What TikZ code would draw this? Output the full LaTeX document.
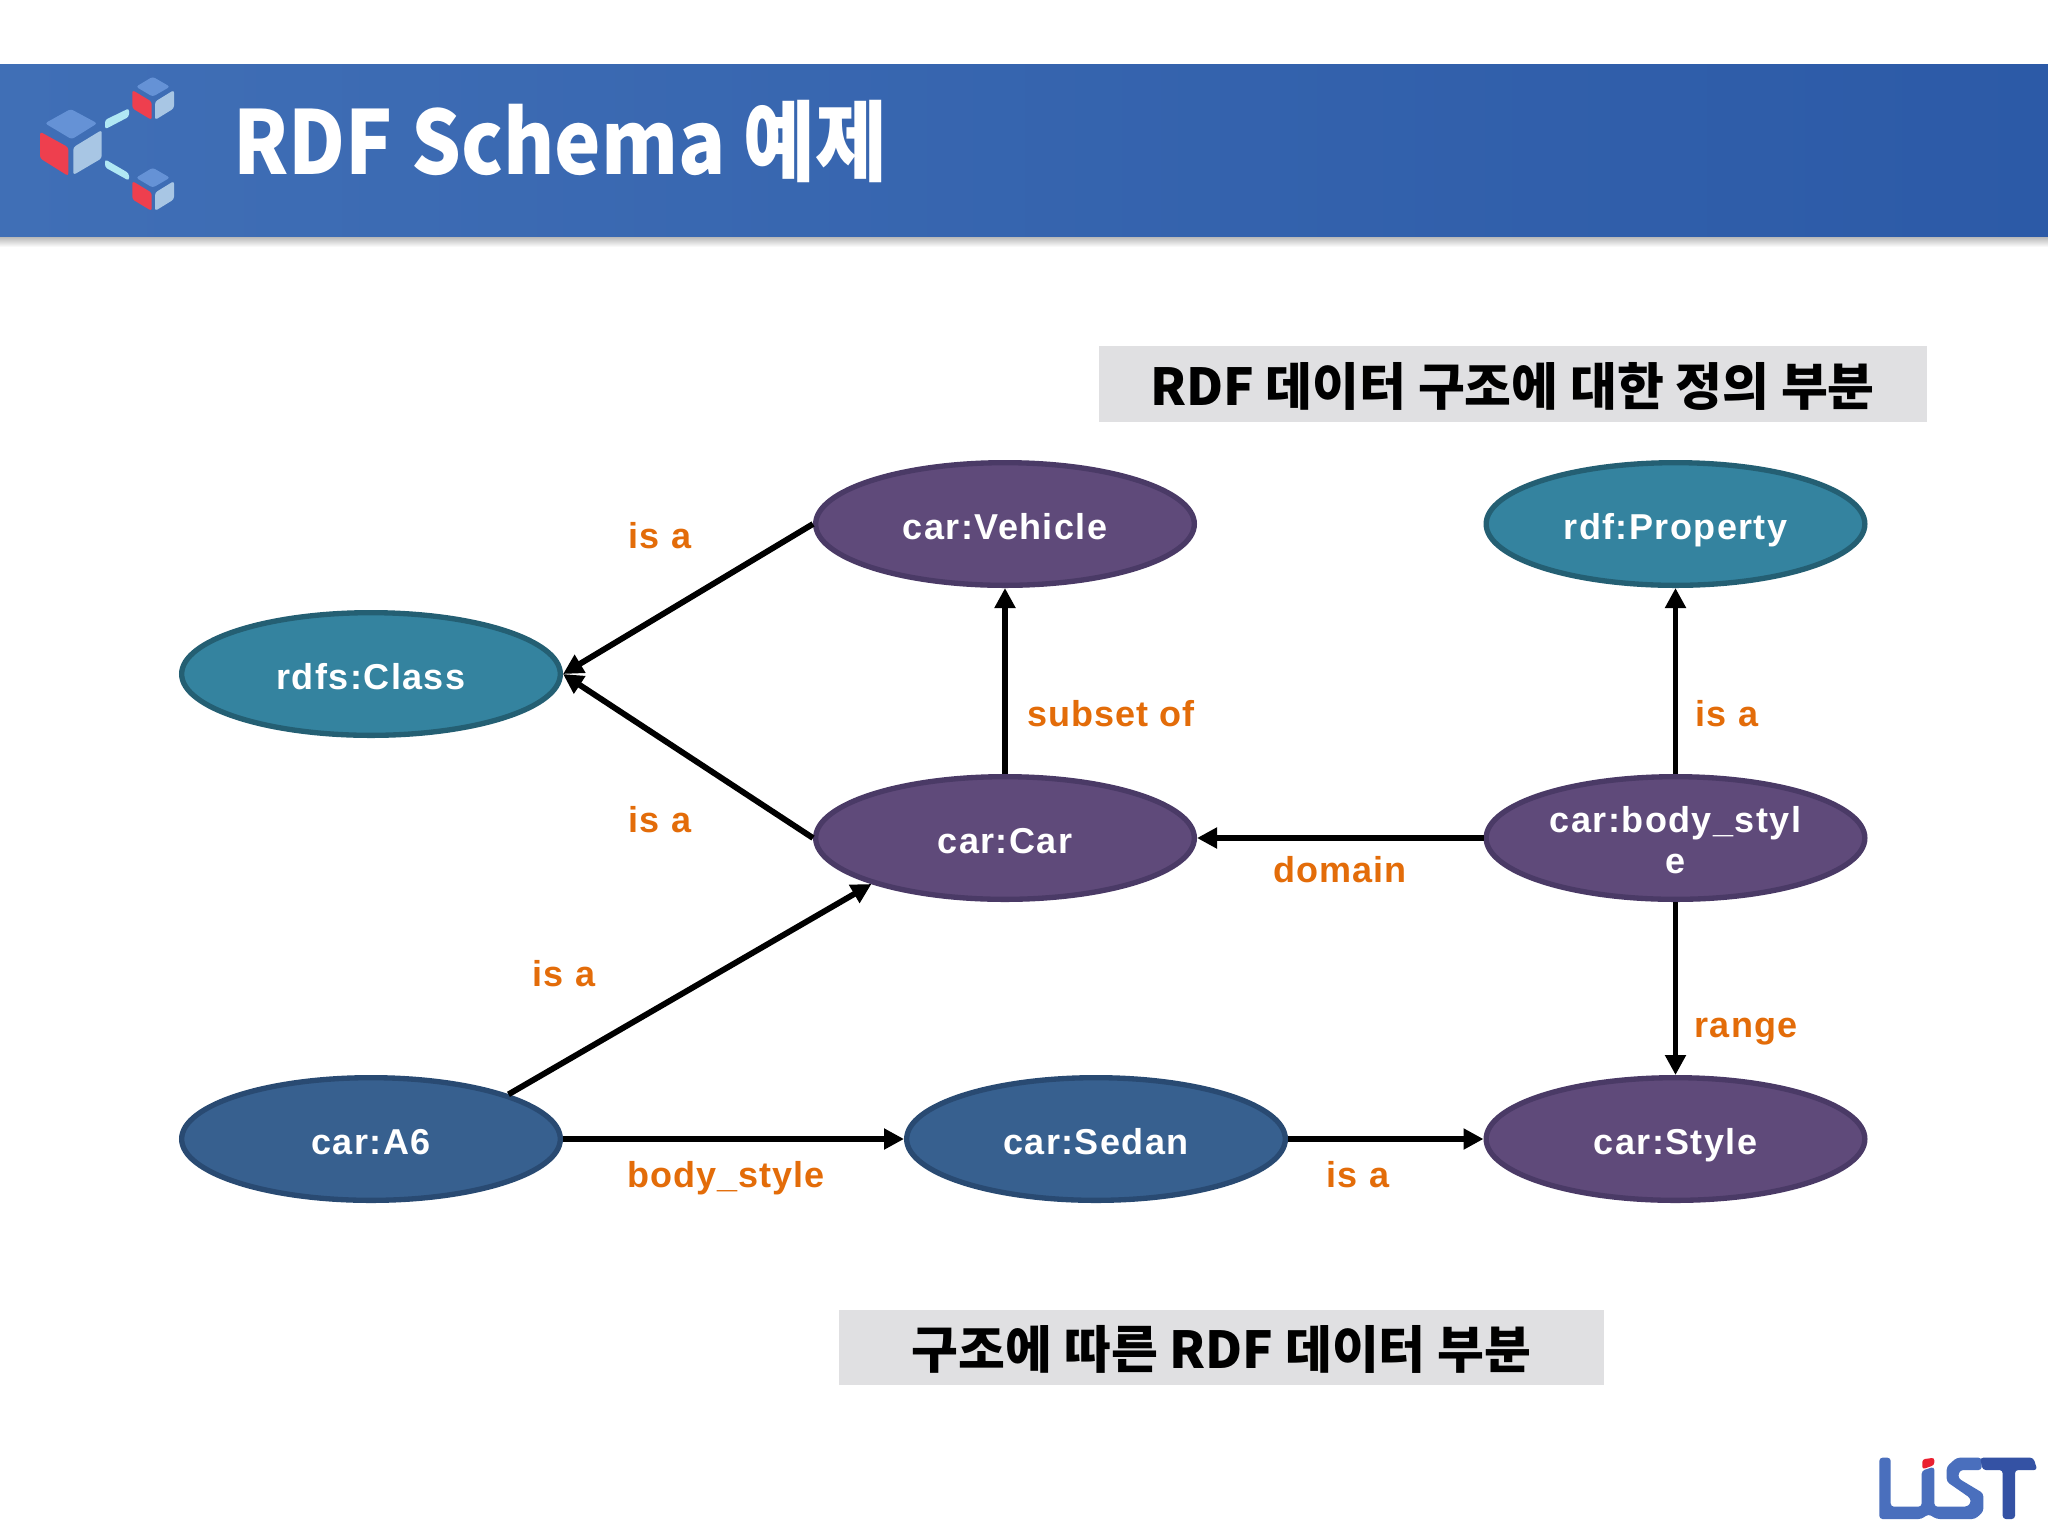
\documentclass[tikz,border=0pt]{standalone}
\usepackage{fontspec}
\usetikzlibrary{shapes.geometric,arrows.meta}
\setmainfont{Liberation Sans}
\newfontfamily\labfont{Liberation Sans}[LetterSpace=3]
\newfontfamily\nodefont{Liberation Sans}[LetterSpace=4]
\newfontfamily\krfont{Noto Sans CJK KR}
\definecolor{teal1}{HTML}{34839F}\definecolor{teal2}{HTML}{245F73}
\definecolor{purp1}{HTML}{5F4A7A}\definecolor{purp2}{HTML}{4A3A66}
\definecolor{blue1}{HTML}{37608F}\definecolor{blue2}{HTML}{294A72}
\definecolor{lab}{HTML}{E36C09}
\definecolor{barL}{HTML}{406FB6}\definecolor{barR}{HTML}{2C5AA7}
\definecolor{cubeT}{HTML}{6592D6}\definecolor{cubeR}{HTML}{A8C6E4}\definecolor{cubeL}{HTML}{EE3F4E}
\definecolor{conn}{HTML}{B0E8F4}
\definecolor{lgA}{HTML}{4A6FBD}\definecolor{lgB}{HTML}{3452A4}\definecolor{lgR}{HTML}{EA2030}
\definecolor{boxc}{HTML}{E0E0E2}
\tikzset{
 x=0.375pt,y=-0.375pt,
 ell/.style={ellipse,draw,line width=2pt,minimum width=142pt,minimum height=46pt,inner sep=0pt,outer sep=1pt,
   text=white,font=\nodefont\bfseries\fontsize{13.5}{15.4}\selectfont,text height=11.7pt,text depth=0pt,align=center},
 tl/.style={ell,fill=teal1,draw=teal2},
 pu/.style={ell,fill=purp1,draw=purp2},
 bl/.style={ell,fill=blue1,draw=blue2},
 arr/.style={draw=black,line width=2.2pt,-{Triangle[length=7.5pt,width=7.5pt]}},
 lb/.style={anchor=base,text=lab,inner sep=0pt,font=\labfont\bfseries\fontsize{13.5}{15.4}\selectfont},
 kbox/.style={fill=boxc,inner sep=0pt,text=black,text height=15.8pt,text depth=0pt,font=\krfont\bfseries\fontsize{19.1}{22}\selectfont},
}
\begin{document}
\begin{tikzpicture}
\useasboundingbox (0,0) rectangle (2048,1536);
\fill[white] (0,0) rectangle (2048,1536);
% header
\shade[top color=black!30,bottom color=white] (0,236) rectangle (2048,247);
\shade[left color=barL,right color=barR] (0,64) rectangle (2048,236);
\node[anchor=base west,inner sep=0pt,text=white,xscale=0.889,font=\krfont\bfseries\fontsize{33}{36}\selectfont] (title) at (233,174) {RDF Schema 예제};
% icon
\begin{scope}[rounded corners=1pt]
\fill[cubeT] (70.7,109)--(97.3,123.3)--(71.7,139.3)--(45,123.3)--cycle;
\fill[cubeL] (40,131.7)--(68.3,147.3)--(68.3,176)--(40,158.3)--cycle;
\fill[cubeR] (101.7,130)--(73.3,147.3)--(73.3,175)--(101.7,158.3)--cycle;
\foreach \d in {0,91}{
\fill[cubeT] (152.7,76.7+\d)--(170,86.7+\d)--(152.7,96.7+\d)--(136,86.7+\d)--cycle;
\fill[cubeL] (132.3,90+\d)--(151.7,101.7+\d)--(151.7,120+\d)--(132.3,108.3+\d)--cycle;
\fill[cubeR] (174,90+\d)--(155,101.7+\d)--(155,120+\d)--(174,108.3+\d)--cycle;
}
\fill[conn] (105,120)--(129,108.3)--(129,116.7)--(105,129.3)--cycle;
\fill[conn] (105,159.3)--(129,173.3)--(129,180.7)--(105,167.3)--cycle;
\end{scope}
% logo
\begin{scope}[shift={(1850,1430)},x=0.125pt,y=-0.125pt]
\fill[lgA,rounded corners=1.2pt] (88,83)--(122,83)--(122,230)--(215,230)--(215,122)--(253,110)--(253,230)--(352,230)--(362,220)--(362,205)--(290,155)--(290,110)--(320,83)--(395,83)--(395,120)--(330,120)--(325,135)--(325,145)--(400,190)--(400,245)--(375,267)--(260,267)--(235,252)--(215,267)--(88,267)--cycle;
\fill[lgB,rounded corners=1.2pt] (390,83)--(550,83)--(562,120)--(495,120)--(495,267)--(458,267)--(458,120)--(398,120)--cycle;
\fill[lgR,rounded corners=1pt] (217,88)--(253,83)--(253,105)--(217,118)--cycle;
\end{scope}
% boxes
\node[kbox,minimum width=310.5pt,minimum height=28.5pt] (b1) at (1512.5,384) {RDF 데이터 구조에 대한 정의 부분};
\node[kbox,minimum width=287.2pt,minimum height=28.1pt] (b2) at (1221.5,1347.5) {구조에 따른 RDF 데이터 부분};
% nodes
\node[tl] (class) at (371,674) {rdfs:Class};
\node[pu] (veh) at (1005,524) {car:Vehicle};
\node[tl] (prop) at (1675.5,524) {rdf:Property};
\node[pu] (car) at (1005,838) {car:Car};
\node[pu,text height=26.6pt] (bs) at (1675.5,838) {car:body\_styl\\e};
\node[bl] (a6) at (371,1139) {car:A6};
\node[bl] (sed) at (1096,1139) {car:Sedan};
\node[pu] (sty) at (1675.5,1139) {car:Style};
% edges
\draw[arr] (veh.west) -- (class.east);
\draw[arr] (car.west) -- (class.east);
\draw[arr] (car.north) -- (veh.south);
\draw[arr] (bs.north) -- (prop.south);
\draw[arr] (bs.west) -- (car.east);
\draw[arr] (bs.south) -- (sty.north);
\draw[arr] (a6.18.7) -- (car.199.8);
\draw[arr] (a6.east) -- (sed.west);
\draw[arr] (sed.east) -- (sty.west);
% labels
\node[lb] (l1) at (660,548.5) {is a};
\node[lb] (l2) at (660,832) {is a};
\node[lb] (l3) at (564,986) {is a};
\node[lb] (l4) at (1111,726) {subset of};
\node[lb] (l5) at (1727,726) {is a};
\node[lb] (l6) at (1340,882) {domain};
\node[lb] (l7) at (1746,1037) {range};
\node[lb] (l8) at (726,1187) {body\_style};
\node[lb] (l9) at (1358,1187) {is a};
\end{tikzpicture}
\end{document}
